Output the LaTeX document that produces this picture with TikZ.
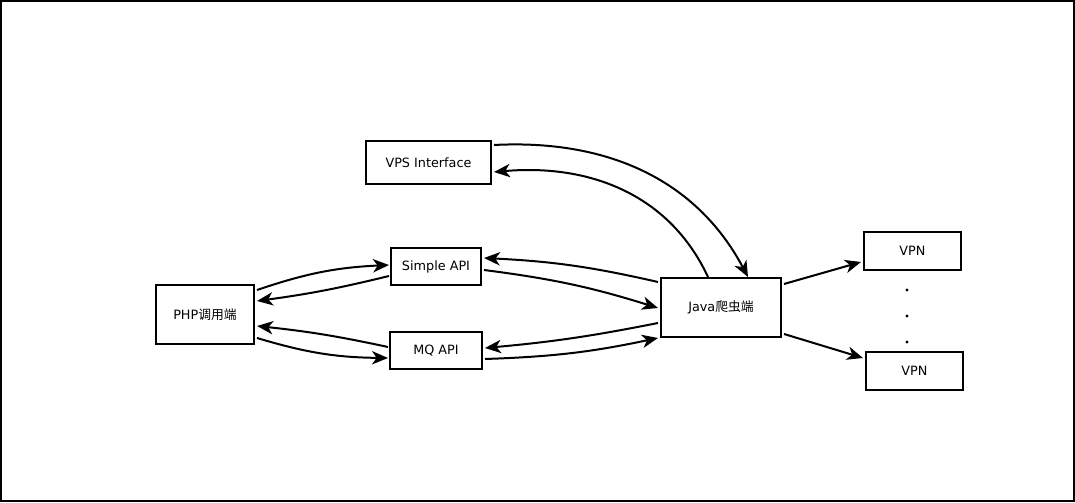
\documentclass[tikz,border=0pt]{standalone}
\usepackage{fontspec}
\setmainfont{DejaVu Sans}
\newfontfamily\cjk{Noto Sans CJK SC}
\usetikzlibrary{arrows.meta}
\usetikzlibrary{calc}
\colorlet{lineColor}{black}
\tikzset{
	compBox/.style={shape=rectangle, draw=lineColor, line width=1.5pt, fill=white, inner sep=0pt,
		font=\fontsize{9.6}{11}\selectfont},
	flowArrow/.style={draw=lineColor, line width=1.5pt, -{Stealth[length=12pt, width=10pt, inset=3.5pt]}},
}

\begin{document}
\begin{tikzpicture}[x=0.75pt, y=0.75pt]
	% --- Rahmen ---
	\useasboundingbox (0, 0) rectangle (1075, 503);
	\draw[line width=1.5pt] (1, 1.5) rectangle (1073.5, 501.5);

	% --- Komponenten ---
	\node[compBox, minimum width=93.75pt, minimum height=32.25pt] (vps) at (428.5, 340.5) {VPS Interface};
	\node[compBox, minimum width=67.5pt, minimum height=27.75pt] (simple) at (436, 236.5) {Simple API};
	\node[compBox, minimum width=73.5pt, minimum height=44.25pt] (php) at (205, 188.5) {PHP{\cjk 调用端}};
	\node[compBox, minimum width=69pt, minimum height=27.75pt] (mq) at (436, 152.5) {MQ API};
	\node[compBox, minimum width=90pt, minimum height=44.25pt] (java) at (721, 195.5) {Java{\cjk 爬虫端}};
	\node[compBox, minimum width=72.75pt, minimum height=28.5pt] (vpnA) at (912.5, 252) {VPN};
	\node[compBox, minimum width=72.75pt, minimum height=28.5pt] (vpnB) at (914.5, 132) {VPN};

	% --- Punkte zwischen den VPNs ---
	\foreach \dotY in {213, 187, 161}
		\fill (907, \dotY) circle (1.2pt);

	% --- PHP <-> APIs ---
	\draw[flowArrow] ($(php.east)+(2, 24.5)$) to[bend left=8] ($(simple.west)+(-1, 1.5)$);
	\draw[flowArrow] ($(simple.west)+(-1, -9.5)$) to[bend left=3] ($(php.east)+(2, 13.5)$);
	\draw[flowArrow] ($(mq.west)+(-1, 3.5)$) to[bend right=3] ($(php.east)+(2, -11.5)$);
	\draw[flowArrow] ($(php.east)+(2, -23.5)$) to[bend right=8] ($(mq.west)+(-1, -7.5)$);

	% --- APIs <-> Java ---
	\draw[flowArrow] ($(java.west)+(-2, 25.5)$) to[bend right=5] ($(simple.east)+(2, 8.5)$);
	\draw[flowArrow] ($(simple.east)+(2, -3.5)$) to[bend left=5] ($(java.west)+(-2, -0.5)$);
	\draw[flowArrow] ($(java.west)+(-2, -15.5)$) to[bend left=3] ($(mq.east)+(2, 2.5)$);
	\draw[flowArrow] ($(mq.east)+(2, -8.5)$) to[bend right=5] ($(java.west)+(-2, -30.5)$);

	% --- VPS <-> Java ---
	\draw[flowArrow] ($(vps.east)+(2, 17.5)$) to[out=3, in=118] ($(java.north)+(27, 0)$);
	\draw[flowArrow] ($(java.north)+(-13, 0)$) to[out=115, in=5] ($(vps.east)+(2, -9.5)$);

	% --- Java -> VPN ---
	\draw[flowArrow] ($(java.east)+(2, 23.5)$) -- ($(vpnA.west)+(-2, -11)$);
	\draw[flowArrow] ($(java.east)+(2, -26.5)$) -- ($(vpnB.west)+(-2, 13)$);
\end{tikzpicture}
\end{document}
